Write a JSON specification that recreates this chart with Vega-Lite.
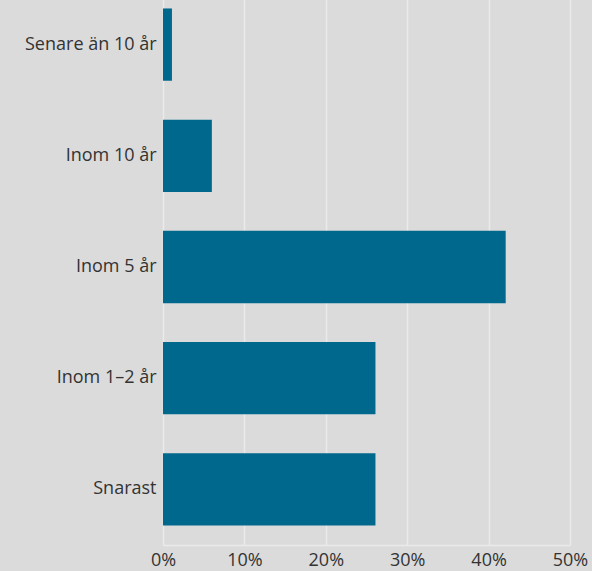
{
  "$schema": "https://vega.github.io/schema/vega-lite/v6.json",
  "width": 407,
  "height": 556,
  "autosize": {"type": "none"},
  "padding": {"left": 163, "top": -11, "right": 22, "bottom": 26},
  "background": "#dbdbdb",
  "config": {
    "view": {"stroke": null},
    "font": "Open Sans",
    "axis": {"labelFont": "Open Sans", "labelColor": "#333333", "labelFontSize": 18}
  },
  "data": {
    "values": [
      {"kategori": "Senare än 10 år", "andel": 0.011},
      {"kategori": "Inom 10 år", "andel": 0.060},
      {"kategori": "Inom 5 år", "andel": 0.421},
      {"kategori": "Inom 1–2 år", "andel": 0.261},
      {"kategori": "Snarast", "andel": 0.261}
    ]
  },
  "mark": {"type": "bar", "color": "#00688c"},
  "encoding": {
    "y": {
      "field": "kategori",
      "type": "nominal",
      "sort": null,
      "scale": {"paddingInner": 0.35, "paddingOuter": 0.175},
      "axis": {"title": null, "ticks": false, "domain": false, "grid": false, "labelPadding": 7, "labelLimit": 0}
    },
    "x": {
      "field": "andel",
      "type": "quantitative",
      "scale": {"domain": [0, 0.5], "nice": false},
      "axis": {
        "title": null,
        "format": ".0%",
        "values": [0, 0.1, 0.2, 0.3, 0.4, 0.5],
        "grid": true,
        "gridColor": "#eaeaea",
        "gridWidth": 1.5,
        "domain": true,
        "domainColor": "#eaeaea",
        "domainWidth": 1.5,
        "ticks": false,
        "labelPadding": 6,
        "labelFlush": false
      }
    }
  }
}
